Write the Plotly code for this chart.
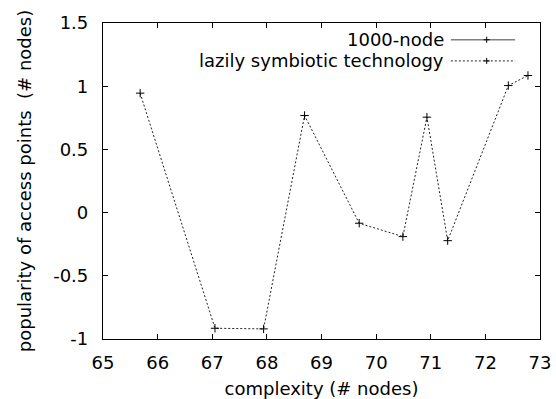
import plotly.graph_objects as go

# Data
x_lazy = [65.68, 67.05, 67.94, 68.69, 69.69, 70.49, 70.93, 71.31, 72.42, 72.78]
y_lazy = [0.945, -0.915, -0.92, 0.768, -0.084, -0.19, 0.755, -0.222, 1.005, 1.085]
x_node = []
y_node = []
series_names = ["1000-node", "lazily symbiotic technology"]
x_ticks = [65, 66, 67, 68, 69, 70, 71, 72, 73]
y_ticks = [-1, -0.5, 0, 0.5, 1, 1.5]
y_tick_text = ["-1", "-0.5", "0", "0.5", "1", "1.5"]

FONT = "DejaVu Sans, Liberation Sans, Arial, sans-serif"
FS = 18

fig = go.Figure()
fig.add_trace(go.Scatter(x=x_node, y=y_node, mode="lines+markers", name=series_names[0],
                         line=dict(color="#808080", width=1.5),
                         marker=dict(symbol="cross-thin", size=6, line=dict(color="#333", width=1)),
                         showlegend=False))
fig.add_trace(go.Scatter(x=x_lazy, y=y_lazy, mode="lines+markers", name=series_names[1],
                         line=dict(color="#222", width=1, dash="2px,2px"),
                         marker=dict(symbol="cross-thin", size=6, color="black",
                                     line=dict(color="black", width=1)),
                         showlegend=False))

axis_common = dict(showline=True, linecolor="black", linewidth=1.2, mirror="allticks",
                   ticks="inside", ticklen=5, tickcolor="black", showgrid=False, zeroline=False,
                   automargin=False,
                   tickfont=dict(family=FONT, size=FS, color="black"))

fig.update_xaxes(range=[65, 73], tickvals=x_ticks, ticktext=[str(v) for v in x_ticks],
                 ticklabelstandoff=7,
                 title=dict(text="complexity (# nodes)", font=dict(family=FONT, size=FS, color="black"),
                            standoff=15),
                 **axis_common)
fig.update_yaxes(range=[-1, 1.5], tickvals=y_ticks, ticktext=y_tick_text,
                 ticklabelstandoff=10,
                 title=dict(text="popularity of access points  (# nodes)",
                            font=dict(family=FONT, size=FS, color="black"), standoff=16),
                 **axis_common)

# Custom gnuplot-style legend (text right-aligned, sample on the right)
rows = [0.947, 0.880]
styles = [dict(color="#808080", width=1.5, dash="solid"), dict(color="#222", width=1, dash="2px,2px")]
for name, yy, st in zip(series_names, rows, styles):
    fig.add_annotation(xref="paper", yref="paper", x=0.784, y=yy, text=name, showarrow=False,
                       xanchor="right", yanchor="middle",
                       font=dict(family=FONT, size=FS, color="black"))
    fig.add_shape(type="line", xref="paper", yref="paper", x0=0.796, x1=0.943, y0=yy, y1=yy,
                  line=st)
    cx, dx, dy = 0.878, 0.007, 0.0095
    fig.add_shape(type="path", xref="paper", yref="paper",
                  path=f"M {cx-dx} {yy} L {cx+dx} {yy} M {cx} {yy-dy} L {cx} {yy+dy}",
                  line=dict(color="black", width=1))

fig.update_layout(width=556, height=399, margin=dict(l=103, r=16, t=23, b=60),
                  plot_bgcolor="white", paper_bgcolor="white", showlegend=False,
                  font=dict(family=FONT, size=FS, color="black"))

fig.write_html("out.html")
